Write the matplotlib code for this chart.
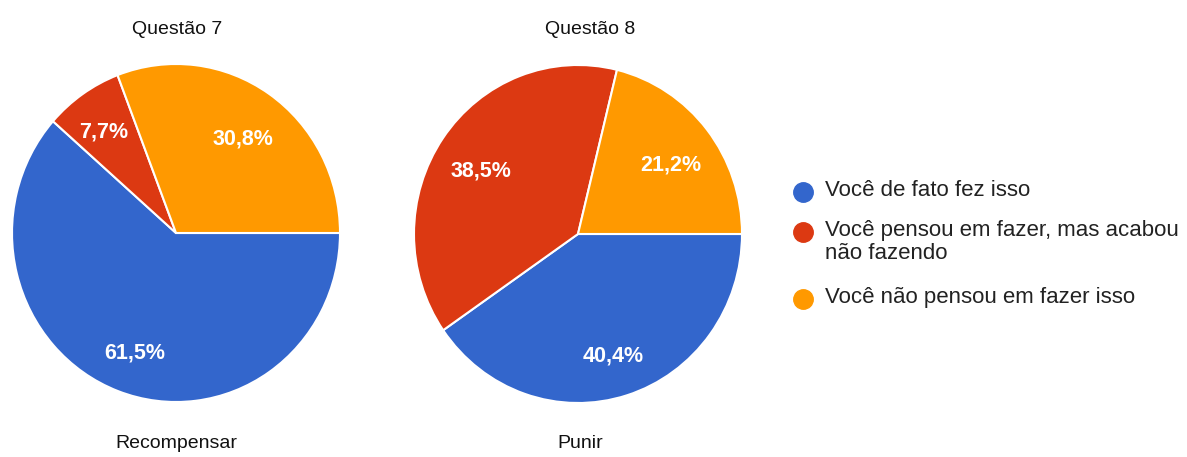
import matplotlib
matplotlib.use("Agg")
import matplotlib.pyplot as plt
from matplotlib.lines import Line2D

plt.rcParams['font.family'] = ['Liberation Sans', 'DejaVu Sans']

categories = ["Você de fato fez isso",
              "Você pensou em fazer, mas acabou\nnão fazendo",
              "Você não pensou em fazer isso"]
colors = ["#3366CC", "#DC3912", "#FF9900"]
q7_values = [61.5, 7.7, 30.8]
q8_values = [40.4, 38.5, 21.2]
titles = ["Questão 7", "Questão 8"]
subtitles = ["Recompensar", "Punir"]

W, H = 1187, 457
fig = plt.figure(figsize=(W / 100, H / 100), dpi=100)


def px_axes(x0, y0, x1, y1):
    return fig.add_axes([x0 / W, 1 - y1 / H, (x1 - x0) / W, (y1 - y0) / H])


def fmt(p):
    return f"{p:.1f}%".replace(".", ",")


def draw_pie(ax, values):
    wedges, _, autotexts = ax.pie(
        values, colors=colors, startangle=0, counterclock=False,
        autopct=fmt, pctdistance=0.72,
        wedgeprops=dict(edgecolor="white", linewidth=1.5),
        textprops=dict(color="white", fontsize=15.5, fontweight="bold"))
    ax.set_aspect("auto")
    ax.set_xlim(-1, 1)
    ax.set_ylim(-1, 1)
    ax.axis("off")
    total = sum(values)
    for v, t in zip(values, autotexts):
        x, y = t.get_position()
        if v / total < 0.1:
            x, y = x * 1.07, y * 1.07
        t.set_position((x, y - 0.035))
    return wedges, autotexts


ax1 = px_axes(12, 64, 340, 402)
draw_pie(ax1, q7_values)
ax2 = px_axes(414, 65, 742, 403)
draw_pie(ax2, q8_values)

# titles and bottom labels
fs_title = 14
fig.text(177 / W, 1 - 30 / H, titles[0], ha="center", va="center", fontsize=fs_title, color="#111111")
fig.text(590 / W, 1 - 30 / H, titles[1], ha="center", va="center", fontsize=fs_title, color="#111111")
fig.text(176 / W, 1 - 443 / H, subtitles[0], ha="center", va="center", fontsize=fs_title, color="#111111")
fig.text(580 / W, 1 - 443 / H, subtitles[1], ha="center", va="center", fontsize=fs_title, color="#111111")

# legend
legend_rows = [192, 232, 299]
for lab, col, y in zip(categories, colors, legend_rows):
    fig.add_artist(Line2D([803 / W], [1 - y / H], marker="o", markersize=14,
                          color=col, linestyle="none", transform=fig.transFigure))
    fig.text(825 / W, 1 - (y - 12) / H, lab, ha="left", va="top",
             fontsize=16, color="#222222", linespacing=1.15)

fig.savefig("out.png", dpi=100, facecolor="white")
